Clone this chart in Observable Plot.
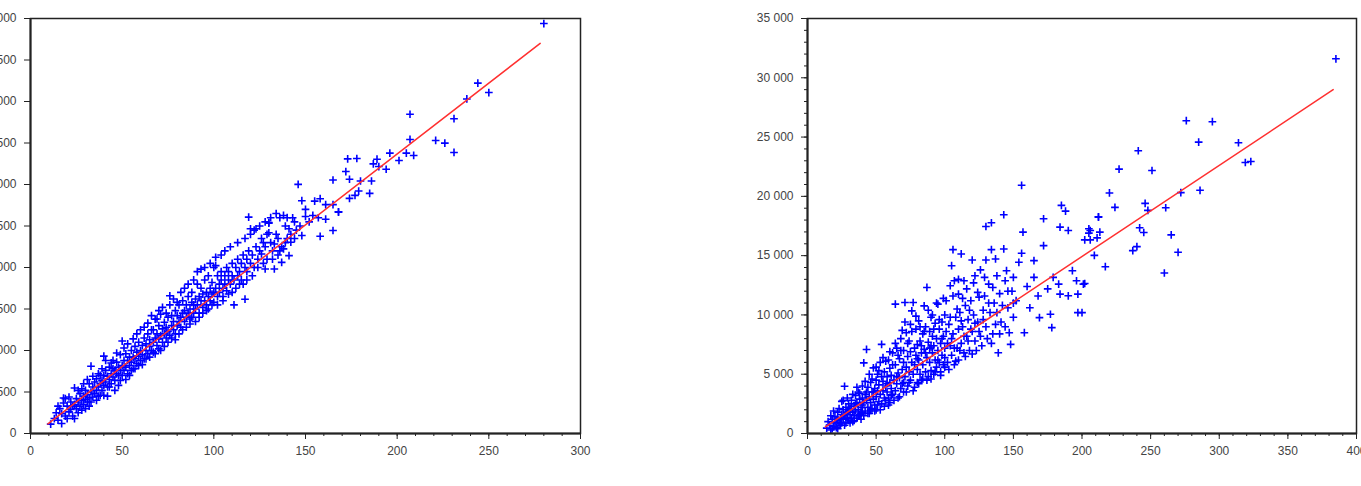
<!DOCTYPE html>
<html>
<head>
<meta charset="utf-8">
<script src="https://cdn.jsdelivr.net/npm/d3@7"></script>
<script src="https://cdn.jsdelivr.net/npm/@observablehq/plot@0.6"></script>
<style>
  html, body { margin: 0; padding: 0; background: #fff; }
  #wrap { display: flex; flex-direction: row; width: 1361px; height: 486px; overflow: hidden; }
  #wrap svg { flex: none; }
</style>
</head>
<body>
<div id="wrap"></div>
<script>
// ---- Left panel data (x, y) ----
const leftPoints = [
  [11,113],[13,180],[14,250],[15,160],[16,300],[17,240],[18,428],[18,367],[19,210],[20,330],[21,260],[22,380],[22,290],[23,210],[24,549],[24,350],[25,300],[25,420],[26,380],[27,480],[27,330],[28,400],[28,540],[29,450],[29,350],[30,520],[30,410],[31,470],[31,380],[32,600],[32,430],[33,811],[33,500],[34,440],[34,560],
  [35,620],[35,480],[36,520],[36,660],[37,560],[37,450],[38,700],[38,600],[39,520],[39,640],[40,932],[40,700],[40,580],[41,620],[41,760],[42,560],[42,690],[43,800],[43,650],[44,720],[44,600],[45,780],[45,680],[45,880],[46,640],[46,760],[47,720],[47,860],[48,700],[48,800],[49,760],[49,950],[50,1114],[50,820],[50,700],[51,880],[51,760],[52,800],[52,960],[53,720],[53,880],[54,920],[54,820],[55,1000],[55,860],[56,780],[56,920],[57,1050],[57,900],[58,840],[58,980],[59,930],[59,1100],[60,880],[60,1000],
  [61,1060],[61,950],[62,1150],[62,900],[63,1000],[63,1080],[64,1200],[64,960],[65,1050],[65,1130],[66,1000],[66,1250],[67,1100],[67,980],[68,1377],[68,1150],[69,1060],[69,1200],[70,1140],[70,1300],[70,1020],[71,1437],[71,1180],[72,1100],[72,1260],[73,1200],[73,1340],[74,1150],[74,1280],[75,1230],[75,1400],[76,1659],[76,1180],[77,1300],[77,1420],[78,1250],[78,1350],[79,1480],[79,1200],[80,1300],[80,1420],[81,1350],[81,1550],[82,1280],[82,1400],[83,1450],[83,1600],[84,1350],[84,1480],[85,1400],[85,1550],[86,1650],[86,1450],[87,1380],[87,1500],[88,1580],[88,1700],[89,1450],[89,1550],[90,1500],[90,1620],
  [91,1550],[91,1800],[92,1450],[92,1650],[93,1600],[93,1750],[94,1520],[94,1680],[95,1850],[95,1600],[96,1700],[96,1550],[97,1650],[97,1900],[98,1750],[98,1600],[99,1680],[99,1820],[100,1700],[100,1580],[101,2123],[101,2022],[101,1750],[102,1650],[102,1900],[103,1800],[103,1700],[104,1850],[104,1950],[105,1750],[105,1650],[106,1900],[106,1800],[107,2000],[107,1720],[108,1850],[108,1950],[109,1800],[110,2050],[110,1900],[111,1550],[111,1850],[112,2000],[113,1900],[113,2100],[114,1950],[115,2050],[115,1850],[116,2150],[117,1618],[117,2000],[118,2100],[118,1950],[119,2607],[119,2200],[120,2466],[120,2050],
  [121,2150],[122,2000],[123,2250],[123,2466],[124,2100],[125,2200],[126,2163],[126,2350],[127,2300],[128,1982],[128,2250],[129,2400],[130,2542],[130,2418],[130,2534],[131,2300],[132,2200],[133,1982],[133,2284],[134,2400],[135,2350],[136,2200],[137,2062],[138,2627],[138,2224],[139,2500],[140,2350],[141,2466],[141,2143],[142,2304],[143,2599],[144,2350],
  [15,330],[17,120],[19,420],[20,180],[21,440],[23,330],[24,180],[26,520],[26,250],[28,280],[29,600],[30,300],[31,650],[32,330],[33,380],[34,690],[36,400],[37,720],[38,460],[39,780],[40,460],[41,880],[42,450],[43,560],[44,850],[46,520],[47,970],[48,580],[49,640],
  [51,1030],[52,650],[53,1080],[54,700],[55,760],[56,1140],[57,780],[58,1200],[59,820],[60,1250],[61,830],[62,1280],[63,900],[64,1330],[65,920],[66,1420],[67,1250],[68,960],[69,1380],[70,1480],[71,1000],[72,1520],[73,1050],[74,1450],[75,1100],[76,1550],[77,1150],[78,1620],[79,1130],[80,1580],
  [81,1200],[82,1700],[83,1250],[84,1750],[85,1280],[86,1800],[87,1320],[88,1400],[89,1850],[90,1350],[91,1950],[92,1400],[93,1980],[94,1450],[95,2000],[96,1480],[97,1500],[98,2050],[99,1550],[100,2000],[102,1550],[104,2150],[105,1600],[106,2200],[108,1680],[109,2250],[110,1700],[112,1750],[113,2300],[114,1800],[116,1800],[117,2350],[118,1850],[120,2400],
  [121,1900],[122,2450],[124,2000],[125,2500],[127,2050],[128,2550],[129,2100],[131,2600],[132,2100],[134,2650],[135,2150],[136,2600],[137,2250],[139,2300],[140,2600],[142,2400],[144,2550],[145,2450],[147,2500],[150,2700],[152,2550],[155,2800],
  [146,3002],[148,2805],[148,2385],[150,2615],[154,2627],[157,2599],[158,2829],[158,2376],[161,2757],[161,2582],[165,2757],[165,3054],[165,2446],[168,2672],[168,2667],[172,3156],[173,3309],[174,3063],[174,2833],[177,2869],[178,3313],[179,2921],[180,3042],[185,2893],[186,3042],[187,3248],[189,3305],[190,3216],[194,3184],[196,3378],[201,3289],[205,3378],[207,3846],[207,3543],[209,3350],[221,3531],[226,3499],[231,3793],[231,3386],[238,4031],[244,4221],[250,4108],[280,4939]
];
const leftFit = [[9.5,115],[278,4700]];
const leftXTicks = [0,50,100,150,200,250,300];
const leftYTicks = [0,500,1000,1500,2000,2500,3000,3500,4000,4500,5000];

// ---- Right panel data (x, y) ----
const rightPoints = [
  [14,452],[16,700],[17,300],[18,1200],[19,600],[20,900],[20,1400],[21,500],[22,1100],[22,1800],[23,800],[24,1300],[25,2712],[25,900],[25,1600],[26,1200],[26,2000],[27,3983],[27,1500],[28,900],[28,2200],[29,1300],[29,1800],[30,2500],[30,1100],[31,1600],[31,2100],[32,1300],[32,2800],[33,1800],[33,1000],[34,2300],[34,1500],[35,3200],[35,1900],[36,1300],[36,2600],[37,2000],[37,3500],[38,1600],[38,2900],[39,2200],[39,1200],[40,3000],[40,1800],[40,2400],
  [41,5959],[41,2600],[42,1900],[42,3300],[43,7089],[43,2800],[44,2200],[44,3900],[45,3100],[45,1700],[46,2600],[46,4300],[47,3500],[47,2100],[48,5535],[48,2900],[49,3800],[49,2400],[50,4500],[50,3100],[50,2000],[51,3600],[51,5000],[52,2700],[52,4100],[53,3300],[53,6000],[54,7513],[54,2500],[55,4400],[55,3600],[56,3000],[56,5200],[57,4000],[57,2800],[58,4800],[58,3500],[59,6200],[59,3000],[60,4300],[60,5500],[60,2600],[61,3800],[61,4900],[62,6800],[62,3300],[63,4500],[64,10907],[64,5800],[64,3600],[65,4200],[65,7200],[66,3000],[66,5100],[67,4700],[67,6300],[68,3800],[68,8000],[69,5400],[69,4200],[70,6000],[70,3500],[70,7000],
  [71,11048],[71,4800],[72,5600],[72,8500],[73,4000],[73,6500],[74,7800],[74,5200],[75,4500],[75,9200],[76,10339],[76,6000],[77,11048],[77,5000],[78,7200],[78,3900],[79,6600],[79,8800],[80,5400],[80,7500],[80,4300],[81,9500],[81,6200],[82,5000],[82,7800],[83,6800],[83,4500],[84,8400],[84,5800],[85,10763],[85,7100],[86,5200],[86,9000],[87,12318],[87,6400],[88,7700],[88,4800],[89,8600],[89,6000],[90,7300],[90,5300],[90,9800],[91,6800],[91,8200],[92,5000],[92,7400],[93,9300],[93,6200],[94,8000],[94,5600],[95,10907],[95,7000],[96,8800],[96,6000],[97,7600],[97,5200],[98,9400],[98,6600],[99,8200],[99,5800],[100,7200],[100,10000],[100,6400],
  [101,8600],[102,6000],[103,9200],[104,12459],[104,7400],[105,14153],[105,6600],[106,15509],[106,8400],[107,12882],[107,5800],[108,9800],[109,7200],[110,11754],[110,8800],[110,6200],[111,10200],[112,15142],[112,7600],[113,9000],[114,12882],[114,6800],[115,10800],[116,8200],[117,9600],[118,7000],[119,11200],[120,14635],[120,8600],[121,10000],[122,13305],[122,7800],[124,9400],[125,11500],[126,8200],[128,10400],[129,13164],[130,14635],[130,17458],[130,9000],[132,11000],[134,17772],[134,15509],[135,12318],[135,8400],[137,14720],[138,10200],[139,6807],[140,11800],[141,9400],[143,15566],[143,18450],[144,12882],[145,13729],[146,10600],[148,7513],[149,12000],[150,13164],[150,9800],
  [15,1000],[17,1500],[18,400],[19,1900],[21,1200],[22,400],[23,2100],[24,700],[26,2800],[27,700],[28,1600],[29,3000],[30,1900],[31,900],[32,2300],[33,3300],[34,1100],[35,2500],[36,3900],[37,1500],[38,3400],[39,1700],[40,4000],
  [41,1500],[42,4400],[43,3500],[44,1700],[45,5000],[46,2000],[47,4600],[48,3500],[49,1900],[50,5600],[51,2400],[52,5300],[53,2000],[54,4800],[55,6400],[56,2300],[57,6100],[58,4200],[59,2400],[60,6900],[61,3200],[62,5800],[63,2800],[64,7600],[65,4800],[66,6600],[67,3100],[68,7000],[69,8700],[70,4300],
  [71,9400],[72,3500],[73,7600],[74,4300],[75,6900],[76,8600],[77,3600],[78,5800],[79,9900],[80,6300],[81,4200],[82,9000],[83,7400],[84,4600],[85,8600],[86,6800],[87,4500],[88,10400],[89,7200],[90,4600],[91,10000],[92,8800],[93,5200],[94,11000],[95,6200],[96,9600],[97,4900],[98,8000],[99,11400],[100,5600],
  [101,11200],[102,7600],[103,5400],[104,9800],[105,8000],[106,11600],[107,7200],[108,6100],[109,10500],[110,13000],[111,7000],[112,9500],[113,11400],[114,8200],[115,6500],[116,12200],[117,7800],[118,10400],[119,8800],[120,6700],[121,12700],[122,9300],[123,7000],[124,11900],[125,8600],[126,13800],[127,7400],[128,9600],[129,11600],[131,8000],[132,12600],[133,10200],[134,7600],[136,11000],[137,9200],[138,13300],[140,8400],[142,10800],[144,9000],[146,12000],[147,8500],[150,11000],
  [152,11200],[154,14437],[156,20933],[156,15199],[157,16980],[158,8502],[160,12400],[162,10600],[165,14577],[165,13164],[168,11600],[169,9773],[172,18111],[172,15848],[175,12200],[177,10055],[178,8925],[179,13164],[183,12600],[184,17404],[184,11754],[185,19238],[188,18758],[190,17123],[190,11612],[193,13729],[196,12882],[197,11754],[197,10195],[200,10196],[201,12600],[202,16330],[202,12653],[205,17263],[205,16895],[206,17123],[206,16330],[209,15026],[211,16500],[212,18280],[212,18250],[213,16980],[217,14068],[220,20289],[224,19069],[227,22297],[237,15424],[240,15763],[241,23844],[242,17348],[245,16950],[246,19407],[248,18814],[251,22183],[260,13535],[261,19040],[265,16754],[270,15280],[272,20317],[276,26381],[285,24578],[286,20510],[295,26296],[314,24521],[319,22856],[323,22940],[385,31600]
];
const rightFit = [[13,550],[383,29000]];
const rightXTicks = [0,50,100,150,200,250,300,350,400];
const rightYTicks = [0,5000,10000,15000,20000,25000,30000,35000];

const fmt = d3.formatLocale({decimal: ".", thousands: " ", grouping: [3], currency: ["", ""]}).format(",d");

function panel({points, fit, xDomain, yDomain, xTicks, yTicks, xMinorStep, yMinorStep, width, marginLeft, marginRight}) {
  const marks = [
    Plot.dot(points, {x: d => d[0], y: d => d[1], symbol: "plus", r: 2.6, stroke: "#0000ff", strokeWidth: 1.6}),
    Plot.line(fit, {x: d => d[0], y: d => d[1], stroke: "#ff3030", strokeWidth: 1.5}),
    Plot.frame({stroke: "#222", strokeWidth: 1.5}),
    Plot.ruleX([xDomain[0]], {stroke: "#222", strokeWidth: 2}),
    Plot.ruleY([yDomain[0]], {stroke: "#222", strokeWidth: 2}),
    Plot.axisX({ticks: xTicks, tickSize: 6, tickPadding: 7, tickFormat: fmt, stroke: "#222", fill: "#444", label: null}),
    Plot.axisY({ticks: yTicks, tickSize: 6, tickPadding: 8, tickFormat: fmt, stroke: "#222", fill: "#444", label: null})
  ];
  if (xMinorStep) marks.push(Plot.axisX({ticks: d3.range(xDomain[0], xDomain[1] + 1e-9, xMinorStep), tickSize: 3, tickFormat: () => "", stroke: "#222", label: null}));
  if (yMinorStep) marks.push(Plot.axisY({ticks: d3.range(yDomain[0], yDomain[1] + 1e-9, yMinorStep), tickSize: 3, tickFormat: () => "", stroke: "#222", label: null}));
  return Plot.plot({
    width, height: 486,
    marginTop: 18, marginBottom: 53, marginLeft, marginRight,
    x: {domain: xDomain},
    y: {domain: yDomain},
    style: {fontFamily: "'Liberation Sans', Arial, sans-serif", fontSize: "12px", color: "#444", background: "#fff", overflow: "hidden"},
    marks
  });
}

const wrap = document.getElementById("wrap");
wrap.append(panel({
  points: leftPoints, fit: leftFit, xDomain: [0, 300], yDomain: [0, 5000],
  xTicks: leftXTicks, yTicks: leftYTicks, xMinorStep: 10, yMinorStep: null,
  width: 680, marginLeft: 30, marginRight: 100
}));
wrap.append(panel({
  points: rightPoints, fit: rightFit, xDomain: [0, 400], yDomain: [0, 35000],
  xTicks: rightXTicks, yTicks: rightYTicks, xMinorStep: 10, yMinorStep: 1000,
  width: 681, marginLeft: 127, marginRight: 5
}));
</script>
</body>
</html>
